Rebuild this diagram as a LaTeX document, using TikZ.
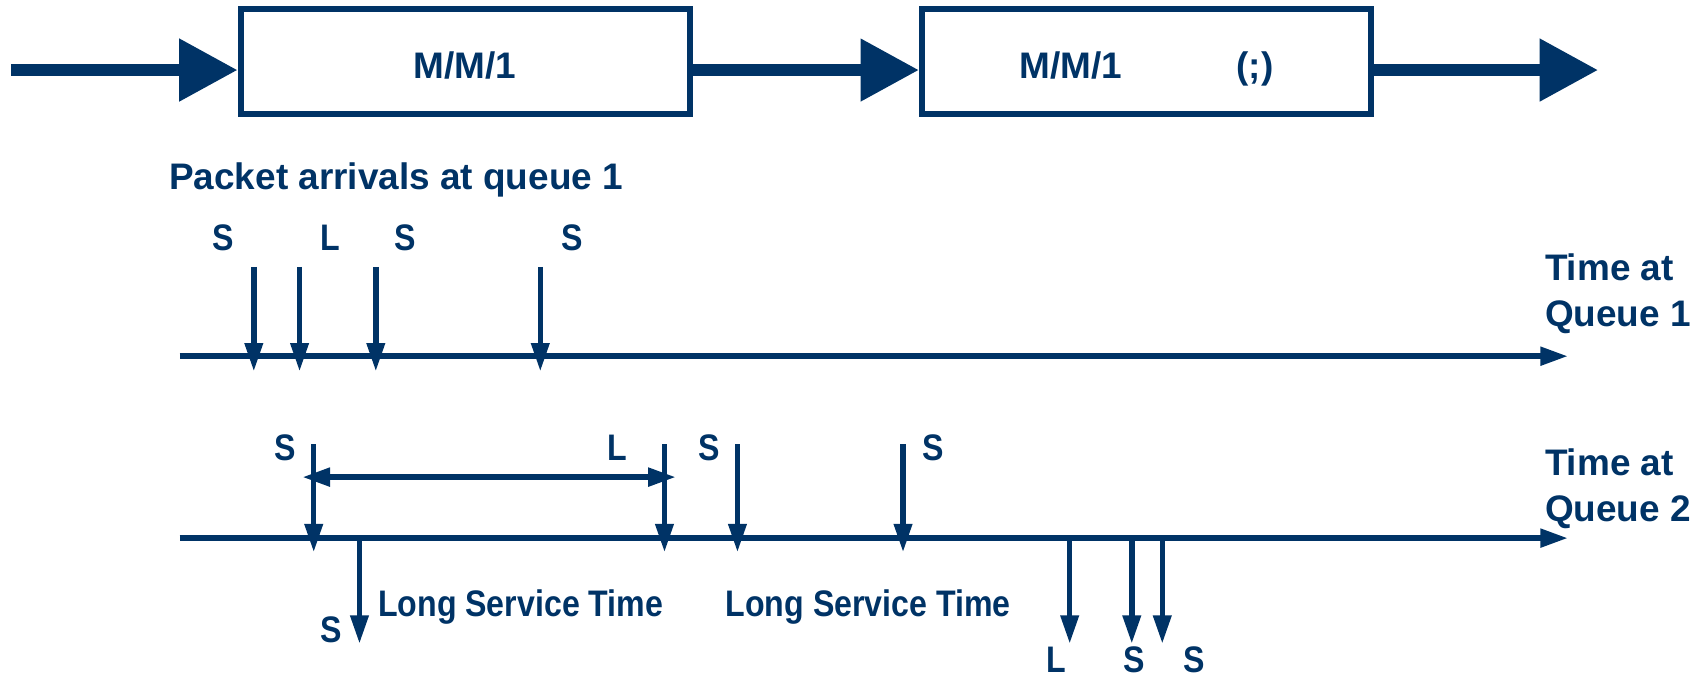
\documentclass[tikz,border=0pt]{standalone}
\usepackage{fontspec}
\newfontfamily\qfont{Liberation Sans}
\newfontfamily\qnarrow{Liberation Sans}[FakeStretch=0.87]
\usepackage{xcolor}
\definecolor{cNavy}{HTML}{003366}
\usepackage{tikz}
\usetikzlibrary{positioning,arrows.meta}
\tikzset{
  q-box/.style={draw=cNavy,line width=0.11cm,minimum width=8.25cm,
    minimum height=1.93cm,inner sep=0pt,text=cNavy,text height=0.64cm,text depth=0.02cm,
    font=\qfont\bfseries\fontsize{19.3pt}{23.8pt}\selectfont},
  lbl-title/.style={text=cNavy,inner sep=0pt,align=left,
    font=\qfont\bfseries\fontsize{19.3pt}{23.8pt}\selectfont},
  lbl/.style={text=cNavy,inner sep=0pt,
    font=\qnarrow\bfseries\fontsize{19.3pt}{23.8pt}\selectfont},
  arrow-big/.style={-{Triangle[length=1.07cm,width=1.1cm]},line width=0.21cm,draw=cNavy},
  arrow-axis/.style={-{Triangle[length=0.52cm,width=0.32cm]},line width=0.12cm,draw=cNavy},
  arrow-tick/.style={-{Triangle[length=0.52cm,width=0.32cm]},line width=0.1cm,draw=cNavy},
  arrow-span/.style={{Triangle[length=0.52cm,width=0.32cm]}-{Triangle[length=0.52cm,width=0.32cm]},
    line width=0.12cm,draw=cNavy},
}
\begin{document}
\begin{tikzpicture}[x=0.02cm,y=-0.02cm]
  \useasboundingbox (0,0) rectangle (1568,622);
  % the two queues in tandem
  \node[q-box] (q1) at (427,56.6) {M/M/1};
  \node[q-box] (q2) at (1052.5,56.6) {M/M/1\hspace{2.1cm}(;)};
  \coordinate (src) at (10,64.3);
  \coordinate (snk) at (1467,64.3);
  \draw[arrow-big] (src) -- (src -| q1.west);
  \draw[arrow-big] (q1.east |- src) -- (q2.west |- src);
  \draw[arrow-big] (q2.east |- src) -- (snk);

  % time line at queue 1
  \node[lbl-title,anchor=base west] (pkt) at (155,174) {Packet arrivals at queue 1};
  \coordinate (t1s) at (165,327);
  \coordinate (t1e) at (1440,327);
  \draw[arrow-axis] (t1s) -- (t1e);
  \node[lbl-title,anchor=north west] (t1lbl) at (1418,233) {Time at\\Queue 1};
  \foreach \x/\t/\dx [count=\i] in {233/S/-28,275/L/28,345/S/27,496/S/29}{
    \coordinate (a\i) at (\x,245);
    \draw[arrow-tick] (a\i) -- ++(0,96);
    \node[lbl] (la\i) at (\x+\dx,218) {\t};
  }

  % time line at queue 2
  \coordinate (t2s) at (165,494);
  \coordinate (t2e) at (1440,494);
  \draw[arrow-axis] (t2s) -- (t2e);
  \node[lbl-title,anchor=north west] (t2lbl) at (1418,412) {Time at\\Queue 2};
  \foreach \x/\t/\dx [count=\i] in {288/S/-26,610/L/-43,677/S/-26,829/S/28}{
    \coordinate (b\i) at (\x,408);
    \draw[arrow-tick] (b\i) -- ++(0,99);
    \node[lbl] (lb\i) at (\x+\dx,411) {\t};
  }
  \coordinate (sp1) at (277,438);
  \coordinate (sp2) at (621,438);
  \draw[arrow-span] (sp1) -- (sp2);
  \foreach \x/\t/\dx/\ly [count=\i] in {330/S/-26/578,982/L/-12/606,1039/S/2/606,1067/S/29/606}{
    \coordinate (d\i) at (\x,494);
    \draw[arrow-tick] (d\i) -- ++(0,97);
    \node[lbl] (ld\i) at (\x+\dx,\ly) {\t};
  }
  \node[lbl,anchor=base] (lst1) at (478,566) {Long Service Time};
  \node[lbl,anchor=base] (lst2) at (797,566) {Long Service Time};
\end{tikzpicture}
\end{document}
